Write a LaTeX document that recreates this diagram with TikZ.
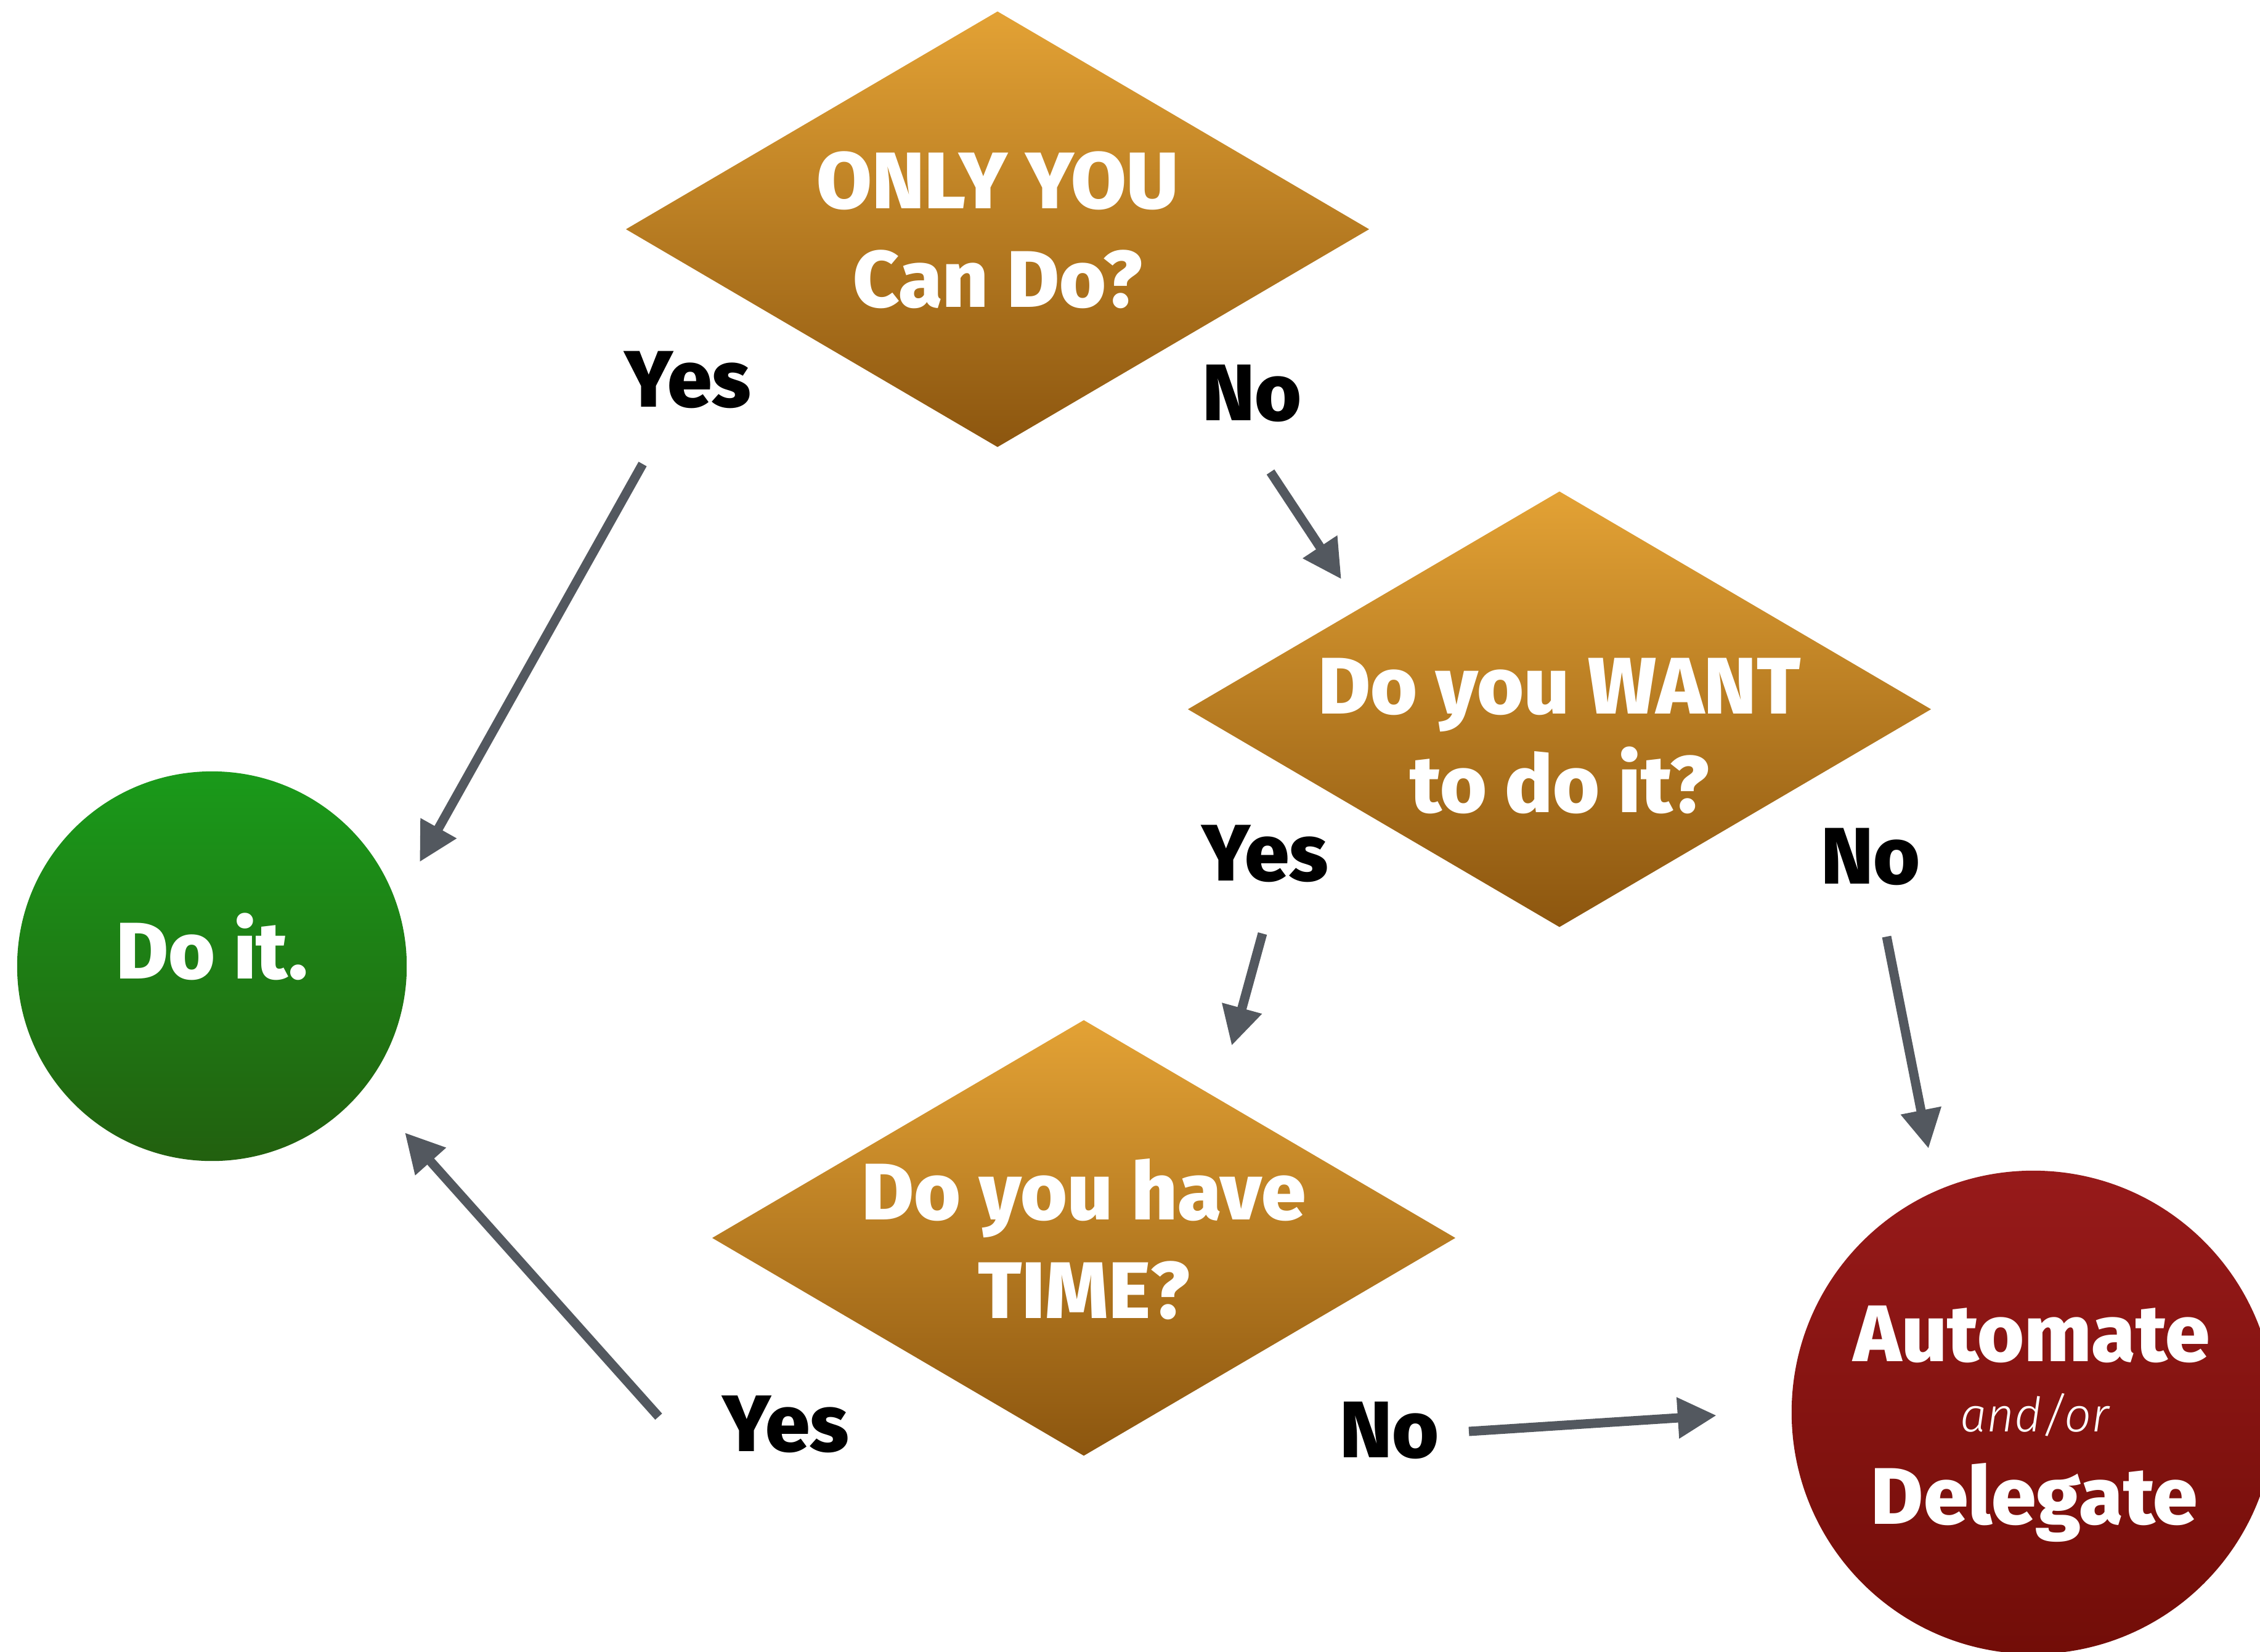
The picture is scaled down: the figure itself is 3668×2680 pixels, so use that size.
\documentclass[tikz,border=0pt]{standalone}
\usepackage{fontspec}
\setmainfont{Fira Sans}[BoldFont={Fira Sans ExtraBold}]
\newfontfamily\lightfont{Fira Sans Light}[ItalicFont={Fira Sans Light Italic}]
\usetikzlibrary{shapes.geometric,arrows.meta}
\definecolor{goldtop}{HTML}{E3A235}
\definecolor{goldbot}{HTML}{8C560F}
\definecolor{greentop}{HTML}{1A9A1A}
\definecolor{greenbot}{HTML}{22600F}
\definecolor{redtop}{HTML}{971A1A}
\definecolor{redbot}{HTML}{720D08}
\definecolor{arrowgray}{HTML}{53585F}
\tikzset{
  question/.style={diamond, aspect=1.706, minimum width=12.06cm, minimum height=7.07cm, inner sep=0pt, top color=goldtop, bottom color=goldbot, draw=none},
  qtext/.style={font=\bfseries\fontsize{37}{45.5}\selectfont, text=white, align=center, inner sep=0pt},
  ctext/.style={font=\bfseries\fontsize{37}{45.5}\selectfont, text=white, anchor=base, inner sep=0pt},
  lbl/.style={font=\bfseries\fontsize{37}{45.5}\selectfont, text=black, anchor=base, inner sep=0pt},
  flow/.style={draw=arrowgray, line width=0.15cm, -{Triangle[length=0.63cm,width=0.63cm]}, fill=arrowgray}
}
\begin{document}
\begin{tikzpicture}[x=0.01cm,y=-0.01cm]
\useasboundingbox (0,0) rectangle (3668,2680);
\clip (0,0) rectangle (3668,2680);
\fill[white] (0,0) rectangle (3668,2680);
% decisions
\node[question] (q1) at (1619,372) {};
\node[question] (q2) at (2531,1151) {};
\node[question] (q3) at (1759,2009) {};
\node[qtext] (q1t) at (1619,373) {ONLY YOU\\Can Do?};
\node[qtext] (q2t) at (2531,1194) {Do you WANT\\to do it?};
\node[qtext] (q3t) at (1759,2011) {Do you have\\TIME?};
% outcomes
\node[circle, minimum size=6.32cm, inner sep=0pt, top color=greentop, bottom color=greenbot, draw=none] (doit) at (344,1568) {};
\node[ctext] (doitt) at (344,1588) {Do it.};
\node[circle, minimum size=7.84cm, inner sep=0pt, top color=redtop, bottom color=redbot, draw=none] (auto) at (3300,2292) {};
\node[ctext] (autot) at (3298,2209) {Automate};
\node[ctext, font=\lightfont\itshape\fontsize{22}{26}\selectfont] (andor) at (3302,2323) {and/or};
\node[ctext] (delt) at (3302,2473) {Delegate};
% labels
\node[lbl] (y1) at (1116,660) {Yes};
\node[lbl] (n1) at (2032,682) {No};
\node[lbl] (y2) at (2053,1429) {Yes};
\node[lbl] (n2) at (3036,1434) {No};
\node[lbl] (y3) at (1275,2355) {Yes};
\node[lbl] (n3) at (2255,2365) {No};
% arrow ends
\coordinate (a1s) at (1043,753);  \coordinate (a1e) at (681,1399);
\coordinate (a2s) at (2062,766);  \coordinate (a2e) at (2177,940);
\coordinate (a3s) at (2049,1515); \coordinate (a3e) at (1999,1697);
\coordinate (a4s) at (3062,1520); \coordinate (a4e) at (3130,1864);
\coordinate (a5s) at (1069,2299); \coordinate (a5e) at (657,1838);
\coordinate (a6s) at (2384,2323); \coordinate (a6e) at (2786,2297);
\draw[flow] (a1s) -- (a1e);
\draw[flow] (a2s) -- (a2e);
\draw[flow] (a3s) -- (a3e);
\draw[flow] (a4s) -- (a4e);
\draw[flow] (a5s) -- (a5e);
\draw[flow] (a6s) -- (a6e);
\end{tikzpicture}
\end{document}
